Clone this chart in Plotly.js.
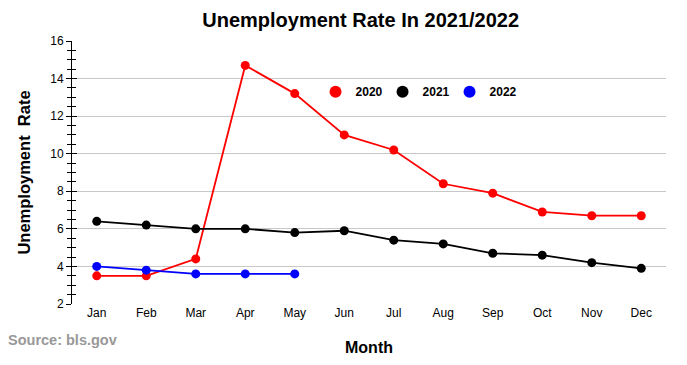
<!DOCTYPE html>
<html>
<head>
<meta charset="utf-8">
<script src="https://cdn.plot.ly/plotly-3.0.1.min.js"></script>
<style>html,body{margin:0;padding:0;background:#fff;}#chart{width:687px;height:365px;}</style>
</head>
<body>
<div id="chart"></div>
<script>
const months = ["Jan","Feb","Mar","Apr","May","Jun","Jul","Aug","Sep","Oct","Nov","Dec"];
const rate2020 = [3.5, 3.5, 4.4, 14.7, 13.2, 11.0, 10.2, 8.4, 7.9, 6.9, 6.7, 6.7];
const rate2021 = [6.4, 6.2, 6.0, 6.0, 5.8, 5.9, 5.4, 5.2, 4.7, 4.6, 4.2, 3.9];
const rate2022 = [4.0, 3.8, 3.6, 3.6, 3.6];
const seriesNames = ["2020", "2021", "2022"];
const seriesColors = ["#ff0000", "#000000", "#0000ff"];
const seriesData = [rate2020, rate2021, rate2022];

const traces = [];
seriesData.forEach((vals, i) => {
  traces.push({
    x: months.slice(0, vals.length), y: vals, type: 'scatter', mode: 'lines+markers',
    line: {color: seriesColors[i], width: 1.8}, marker: {color: seriesColors[i], size: 9},
    showlegend: false, hoverinfo: 'x+y', name: seriesNames[i]
  });
});
seriesData.forEach((vals, i) => {
  traces.push({
    x: [null], y: [null], type: 'scatter', mode: 'markers',
    marker: {color: seriesColors[i], size: 12}, name: seriesNames[i], showlegend: true
  });
});
// overlay axis for inward tick halves
traces.push({x: [months[0]], y: [null], yaxis: 'y2', type: 'scatter', mode: 'markers', showlegend: false, hoverinfo: 'skip'});

const layout = {
  width: 687, height: 365,
  margin: {l: 72, r: 21, t: 41, b: 61},
  paper_bgcolor: '#fff', plot_bgcolor: '#fff',
  font: {family: 'Liberation Sans, Arial, sans-serif', size: 12, color: '#000'},
  title: {text: '<b>Unemployment Rate In 2021/2022</b>', x: 0.525, xanchor: 'center', y: 0.945, yanchor: 'middle',
          font: {size: 20, color: '#000'}},
  xaxis: {
    type: 'category', categoryorder: 'array', categoryarray: months, range: [-0.5, 11.5],
    showgrid: false, zeroline: false, showline: false, ticks: '',
    tickfont: {size: 12, color: '#000'},
    title: {text: '<b>Month</b>', font: {size: 16, color: '#000'}, standoff: 22}
  },
  yaxis: {
    range: [2, 16], dtick: 2, tick0: 2, showgrid: true, gridcolor: '#c8c8c8', gridwidth: 1,
    zeroline: false, showline: true, linecolor: '#000', linewidth: 1,
    ticks: 'outside', ticklen: 5, tickcolor: '#000', tickwidth: 1,
    minor: {dtick: 0.5, ticks: 'outside', ticklen: 4, tickcolor: '#000', tickwidth: 1, showgrid: false},
    tickfont: {size: 12, color: '#000'},
    title: {text: '<b>Unemployment  Rate</b>', font: {size: 16.5, color: '#000'}, standoff: 15}
  },
  yaxis2: {
    overlaying: 'y', side: 'left', range: [2, 16], dtick: 2, tick0: 2, showgrid: false, zeroline: false,
    showline: false, ticks: 'inside', ticklen: 5, tickcolor: '#000', tickwidth: 1, showticklabels: false,
    minor: {dtick: 0.5, ticks: 'inside', ticklen: 4, tickcolor: '#000', tickwidth: 1, showgrid: false}
  },
  legend: {orientation: 'h', x: 0.41, y: 0.807, xanchor: 'left', yanchor: 'middle',
           font: {size: 12, color: '#000', weight: 'bold'}, entrywidth: 22, entrywidthmode: 'pixels',
           itemwidth: 30, bgcolor: 'rgba(0,0,0,0)'},
  annotations: [{text: '<b>Source: bls.gov</b>', xref: 'paper', yref: 'paper', x: -0.111, y: -0.135,
                 xanchor: 'left', yanchor: 'middle', showarrow: false,
                 font: {size: 14.5, color: '#999999'}}],
  showlegend: true
};
Plotly.newPlot('chart', traces, layout, {displayModeBar: false, staticPlot: true});
</script>
</body>
</html>
